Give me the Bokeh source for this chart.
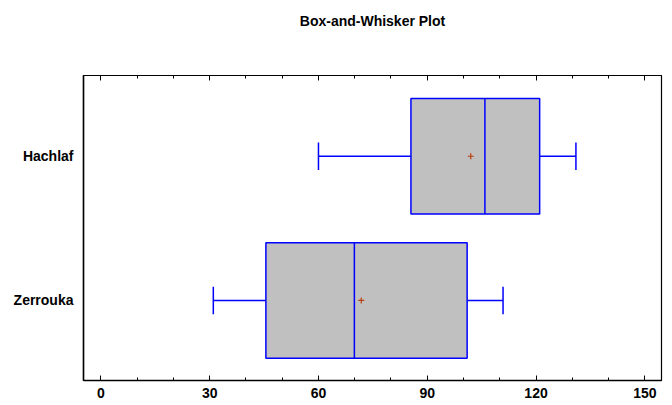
from bokeh.plotting import figure
from bokeh.models import Range1d, LinearAxis, FixedTicker
from bokeh.embed import file_html
from bokeh.resources import INLINE

categories = ["Zerrouka", "Hachlaf"]
whisker_low = [31.0, 60.0]
q1 = [45.5, 85.5]
median = [69.9, 105.9]
q3 = [101.0, 121.0]
whisker_high = [110.9, 131.0]
mean = [71.8, 102.0]
x_ticks = [0, 30, 60, 90, 120, 150]
x_minor = list(range(0, 151, 10))
title_text = "Box-and-Whisker Plot"

ypos = list(range(len(categories)))
FONT = "'Liberation Sans Narrow', 'Arial Narrow', 'Liberation Sans', sans-serif"

X0, X1 = -4.8, 154.6
FW, FH = 578, 305
p = figure(frame_width=FW, frame_height=FH, output_backend="svg", toolbar_location=None,
           x_range=Range1d(X0, X1), y_range=Range1d(-0.555, 1.56),
           x_axis_location=None, y_axis_location=None)
p.min_border_left = 83
p.min_border_right = 11
p.min_border_top = 75
p.min_border_bottom = 25
p.grid.visible = False
p.outline_line_color = "black"
p.outline_line_width = 1.2
p.background_fill_color = "white"
p.border_fill_color = "white"

bx = LinearAxis()
bx.ticker = FixedTicker(ticks=x_ticks, minor_ticks=x_minor)
bx.major_tick_in = 5
bx.major_tick_out = 0
bx.minor_tick_in = 3
bx.minor_tick_out = 0
bx.axis_line_color = "black"
bx.axis_line_width = 1.5
bx.major_label_text_font = FONT
bx.major_label_text_font_style = "bold"
bx.major_label_text_font_size = "14px"
bx.major_label_text_color = "black"
bx.major_label_standoff = 7
p.add_layout(bx, "below")

# top ticks (no labels): two axes holding only minor ticks of two lengths
for ticks, length in ((x_minor, 3), (x_ticks, 5)):
    ax = LinearAxis()
    ax.ticker = FixedTicker(ticks=[], minor_ticks=ticks)
    ax.major_tick_in = 0
    ax.major_tick_out = 0
    ax.minor_tick_in = length
    ax.minor_tick_out = 0
    ax.minor_tick_line_color = "black"
    ax.axis_line_color = "black"
    ax.major_label_standoff = 0
    p.add_layout(ax, "above")

# chart title, carried by a bare top axis with one label centred over the frame
mid = (X0 + X1) / 2
tt = LinearAxis()
tt.ticker = FixedTicker(ticks=[mid], minor_ticks=[])
tt.major_label_overrides = {mid: title_text}
tt.major_tick_in = 0
tt.major_tick_out = 0
tt.major_tick_line_color = None
tt.minor_tick_line_color = None
tt.axis_line_color = None
tt.major_label_standoff = 47
tt.major_label_text_font = FONT
tt.major_label_text_font_style = "bold"
tt.major_label_text_font_size = "14px"
tt.major_label_text_color = "black"
p.add_layout(tt, "above")

ly = LinearAxis()
ly.ticker = FixedTicker(ticks=ypos)
ly.major_label_overrides = {i: c for i, c in zip(ypos, categories)}
ly.major_tick_in = 0
ly.major_tick_out = 0
ly.minor_tick_in = 0
ly.minor_tick_out = 0
ly.axis_line_color = "black"
ly.axis_line_width = 1.5
ly.major_label_text_font = FONT
ly.major_label_text_font_style = "bold"
ly.major_label_text_font_size = "14px"
ly.major_label_text_color = "black"
ly.major_label_standoff = 10
p.add_layout(ly, "left")

blue = "#0000FF"
p.segment(x0=whisker_low, y0=ypos, x1=q1, y1=ypos, line_color=blue, line_width=1.5)
p.segment(x0=q3, y0=ypos, x1=whisker_high, y1=ypos, line_color=blue, line_width=1.5)
cap = 0.095
p.segment(x0=whisker_low, y0=[y - cap for y in ypos], x1=whisker_low, y1=[y + cap for y in ypos],
          line_color=blue, line_width=1.5)
p.segment(x0=whisker_high, y0=[y - cap for y in ypos], x1=whisker_high, y1=[y + cap for y in ypos],
          line_color=blue, line_width=1.5)
p.hbar(y=ypos, left=q1, right=q3, height=0.8, fill_color="#C0C0C0", line_color=blue, line_width=1.5)
p.segment(x0=median, y0=[y - 0.4 for y in ypos], x1=median, y1=[y + 0.4 for y in ypos],
          line_color=blue, line_width=1.5)
p.scatter(x=mean, y=ypos, marker="cross", size=6, line_color="#B84010", line_width=1.2)

open("out.html", "w").write(file_html(p, INLINE))
